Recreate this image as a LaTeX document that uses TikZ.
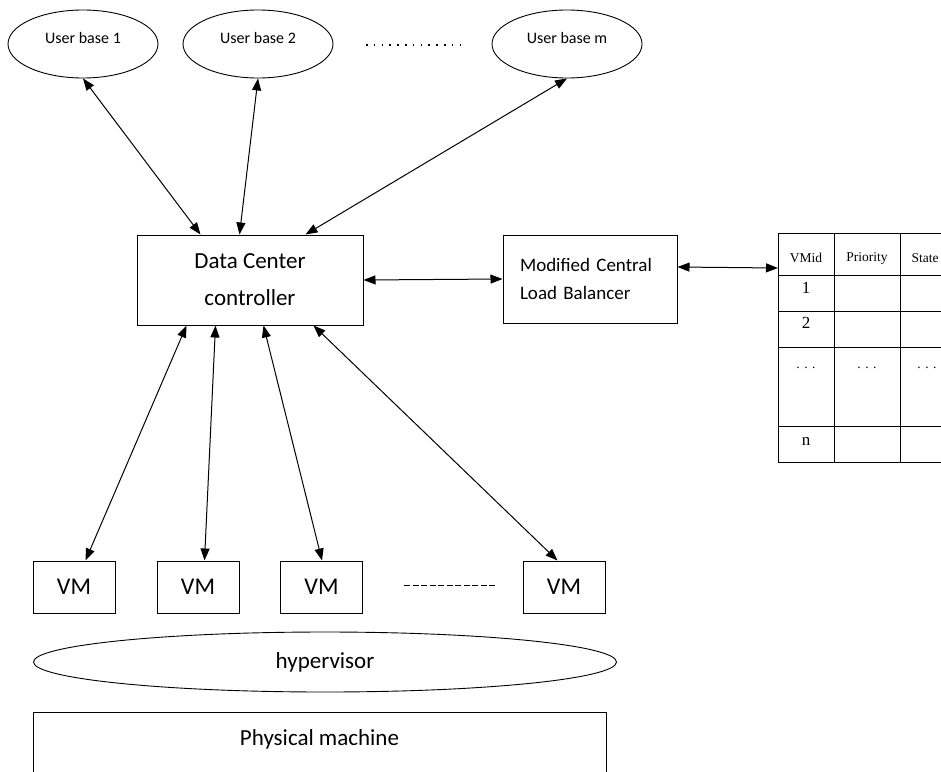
\documentclass[tikz,border=0pt]{standalone}
\usepackage{fontspec}
\setmainfont{Carlito}
\newfontfamily\tabfont{Liberation Serif}
\usetikzlibrary{shapes.geometric,arrows.meta}

\tikzset{
  userbase/.style={draw, ellipse, line width=0.9pt, minimum width=150pt, minimum height=68pt,
    inner sep=0pt, text depth=13pt, font=\fontsize{16}{18}\selectfont},
  box/.style={draw, line width=1pt, inner sep=0pt},
  vmbox/.style={box, minimum width=82pt, minimum height=52pt, font=\fontsize{24}{28}\selectfont},
  link/.style={<->, >={Triangle[length=12pt,width=9pt]}, line width=1pt},
  tabline/.style={line width=1pt},
  tabtext/.style={inner sep=0pt, font=\tabfont\fontsize{13.5}{15}\selectfont},
  tabnum/.style={inner sep=0pt, font=\tabfont\fontsize{17}{19}\selectfont},
}

\begin{document}
\begin{tikzpicture}[x=1pt, y=-1pt]
  \useasboundingbox (0,0) rectangle (941,771);
  \clip (0,0) rectangle (941,771);

  % user bases
  \node[userbase] (ub1) at (83,44) {User base 1};
  \node[userbase] (ub2) at (258,44) {User base 2};
  \node[userbase] (ubm) at (567,44) {User base m};
  \draw[line width=1.6pt, dash pattern=on 1.6pt off 6.2pt] (366,45) -- (466,45);

  % controller and balancer
  \node[box, minimum width=226pt, minimum height=90pt, align=center,
    font=\fontsize{23}{37}\selectfont] (dcc) at (250,280) {Data Center\\controller};
  \node[box, minimum width=174pt, minimum height=88pt, text width=140pt, inner xsep=17pt,
    align=left, font=\fontsize{19}{28}\selectfont] (mclb) at (590,279) {Modified Central\\Load Balancer};

  % VM table
  \draw[tabline] (778,233) rectangle (966,462);
  \foreach \y in {275,311,347,426}
    \draw[tabline] (778,\y) -- (966,\y);
  \foreach \x in {834,900}
    \draw[tabline] (\x,233) -- (\x,462);
  \coordinate (tin) at (778,268);
  \node[tabtext] (hid) at (806,258) {VMid};
  \node[tabtext] (hpr) at (867,258) {Priority};
  \node[tabtext] (hst) at (925,258) {State};
  \node[tabnum] (r1) at (806,288) {1};
  \node[tabnum] (r2) at (806,323) {2};
  \node[tabtext] (rd1) at (806,368) {. . .};
  \node[tabtext] (rd2) at (867,368) {. . .};
  \node[tabtext] (rd3) at (927,368) {. . .};
  \node[tabnum] (rn) at (806,441) {n};

  % virtual machines
  \node[vmbox] (vm1) at (74,587) {VM};
  \node[vmbox] (vm2) at (198,587) {VM};
  \node[vmbox] (vm3) at (321.5,587) {VM};
  \node[vmbox] (vm4) at (564,587) {VM};
  \draw[line width=1pt, dash pattern=on 6pt off 2.5pt] (404,585) -- (496,585);

  \node[draw, ellipse, line width=0.9pt, minimum width=583pt, minimum height=60pt, inner sep=0pt,
    font=\fontsize{23}{28}\selectfont] (hyp) at (325,662) {hypervisor};
  \node[box, anchor=north, minimum width=573pt, inner ysep=5pt, text height=28pt, text depth=60pt,
    font=\fontsize{23}{28}\selectfont] (pm) at (319.5,712) {Physical machine};

  % connections
  \draw[link] (ub1.south) -- ([xshift=64pt]dcc.north west);
  \draw[link] (ub2.south) -- ([xshift=103pt]dcc.north west);
  \draw[link] (ubm.south) -- ([xshift=169pt]dcc.north west);
  \draw[link] (dcc.east) -- (mclb.west);
  \draw[link] ([yshift=12pt]mclb.east) -- (tin);
  \draw[link] ([xshift=50pt]dcc.south west) -- ([xshift=53pt]vm1.north west);
  \draw[link] ([xshift=79pt]dcc.south west) -- ([xshift=48pt]vm2.north west);
  \draw[link] ([xshift=127pt]dcc.south west) -- ([xshift=42pt]vm3.north west);
  \draw[link] ([xshift=177pt]dcc.south west) -- ([xshift=35pt]vm4.north west);
\end{tikzpicture}
\end{document}
